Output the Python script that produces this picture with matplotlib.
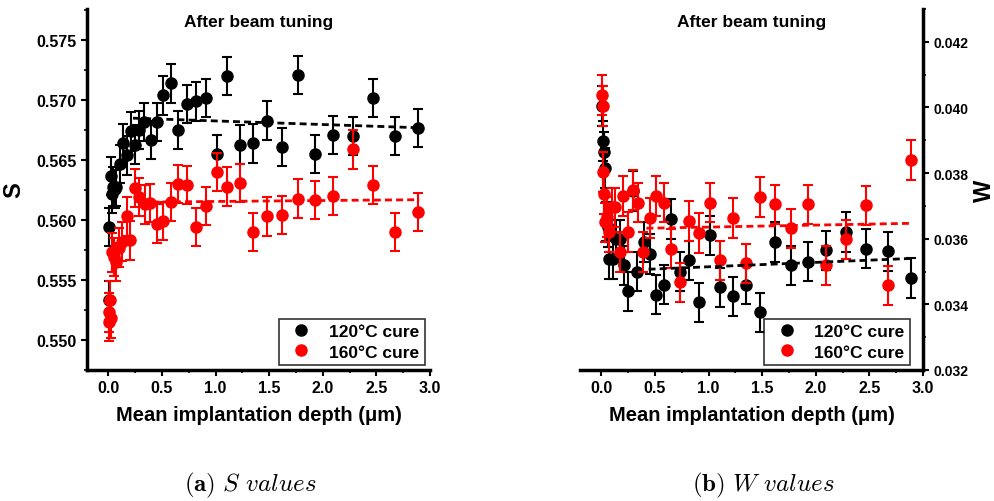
import matplotlib
matplotlib.use('Agg')
import matplotlib.pyplot as plt
from matplotlib.lines import Line2D
from matplotlib.ticker import MultipleLocator

plt.rcParams['font.family'] = ['Liberation Sans', 'DejaVu Sans']
plt.rcParams['font.weight'] = 'bold'
plt.rcParams['mathtext.fontset'] = 'cm'

# depths (um)
d120 = [0.005, 0.01, 0.02, 0.03, 0.04, 0.06, 0.07, 0.11, 0.14, 0.17, 0.21, 0.25,
        0.29, 0.33, 0.40, 0.45, 0.51, 0.58, 0.65, 0.73, 0.82, 0.91, 1.01, 1.11,
        1.23, 1.35, 1.48, 1.62, 1.77, 1.93, 2.10, 2.28, 2.47, 2.67, 2.89]
d160 = [0.005, 0.01, 0.015, 0.02, 0.03, 0.05, 0.07, 0.10, 0.13, 0.17, 0.20, 0.25,
        0.29, 0.34, 0.39, 0.45, 0.51, 0.58, 0.65, 0.73, 0.82, 0.91, 1.01, 1.11,
        1.23, 1.35, 1.48, 1.62, 1.77, 1.93, 2.10, 2.28, 2.47, 2.67, 2.89]

# S parameter
s120 = [0.5533, 0.5594, 0.5637, 0.5622, 0.5628, 0.5626, 0.5628, 0.5647, 0.5664,
        0.5654, 0.5674, 0.5663, 0.5675, 0.5682, 0.5667, 0.5682, 0.5704, 0.5714,
        0.5675, 0.5697, 0.5699, 0.5702, 0.5655, 0.5720, 0.5663, 0.5664, 0.5683,
        0.5661, 0.5721, 0.5655, 0.5671, 0.5670, 0.5702, 0.5670, 0.5677]
s160 = [0.5523, 0.5515, 0.5533, 0.5518, 0.5573, 0.5569, 0.5565, 0.5577, 0.5582,
        0.5603, 0.5583, 0.5627, 0.5619, 0.5613, 0.5614, 0.5597, 0.5599, 0.5615,
        0.5630, 0.5629, 0.5594, 0.5612, 0.5640, 0.5628, 0.5631, 0.5590, 0.5603,
        0.5604, 0.5618, 0.5617, 0.5620, 0.5659, 0.5629, 0.5590, 0.5607]
s_err = 0.0016

# W parameter
w120 = [0.04005, 0.03898, 0.03864, 0.03815, 0.03653, 0.03635, 0.03537, 0.03537,
        0.03598, 0.03598, 0.03519, 0.03440, 0.03745, 0.03500, 0.03590, 0.03553,
        0.03430, 0.03460, 0.03660, 0.03500, 0.03534, 0.03406, 0.03610, 0.03452,
        0.03424, 0.03460, 0.03376, 0.03590, 0.03519, 0.03530, 0.03565, 0.03620,
        0.03570, 0.03562, 0.03480]
w160 = [0.04038, 0.04005, 0.03803, 0.03736, 0.03650, 0.03666, 0.03620, 0.03696,
        0.03696, 0.03559, 0.03730, 0.03620, 0.03748, 0.03710, 0.03560, 0.03663,
        0.03730, 0.03710, 0.03570, 0.03467, 0.03654, 0.03617, 0.03710, 0.03534,
        0.03663, 0.03525, 0.03727, 0.03705, 0.03632, 0.03705, 0.03519, 0.03598,
        0.03702, 0.03458, 0.03840]
w_err = 0.0006

# linear fits (start, end)
fit_x120_s = [0.23, 2.9]
fit_s120 = [0.5685, 0.5677]
fit_x160_s = [0.30, 2.9]
fit_s160 = [0.5615, 0.5617]
fit_x120_w = [0.44, 2.9]
fit_w120 = [0.03507, 0.03540]
fit_x160_w = [0.42, 2.9]
fit_w160 = [0.03632, 0.03647]

labels = ['120\u00b0C cure', '160\u00b0C cure']

fig = plt.figure(figsize=(9.94, 5.02), dpi=100)
ax1 = fig.add_axes([0.0875, 0.261, 0.345, 0.719])
ax2 = fig.add_axes([0.5835, 0.261, 0.345, 0.719])


def panel(ax, y1, y2, err, f1x, f1y, f2x, f2y):
    ax.errorbar(d120, y1, yerr=err, fmt='o', color='black', ms=8,
                elinewidth=1.5, capsize=3.5, capthick=1.5, zorder=2)
    ax.errorbar(d160, y2, yerr=err, fmt='o', color='red', ms=8,
                elinewidth=1.5, capsize=3.5, capthick=1.5, zorder=3)
    ax.plot(f1x, f1y, '--', color='black', lw=2, dashes=(2.5, 1.5), zorder=4)
    ax.plot(f2x, f2y, '--', color='red', lw=2, dashes=(2.5, 1.5), zorder=4)
    ax.set_xlim(-0.2, 3.0)
    ax.xaxis.set_major_locator(MultipleLocator(0.5))
    ax.xaxis.set_minor_locator(MultipleLocator(0.25))
    ax.set_xlabel('Mean implantation depth (\u03bcm)', fontsize=14.5,
                  fontweight='bold', labelpad=7)
    ax.text(0.5, 0.965, 'After beam tuning', transform=ax.transAxes,
            ha='center', va='center', fontsize=12.5, fontweight='bold')
    ax.tick_params(which='major', direction='out', length=4, width=1.5,
                   labelsize=11.5)
    ax.tick_params(which='minor', direction='out', length=2.5, width=1.2)
    for lab in ax.get_xticklabels() + ax.get_yticklabels():
        lab.set_fontweight('bold')
    handles = [Line2D([], [], marker='o', ls='', color='black', ms=8),
               Line2D([], [], marker='o', ls='', color='red', ms=8)]
    leg = ax.legend(handles, labels, loc='lower right', fontsize=12.5,
                    frameon=True, fancybox=False, handletextpad=0.6,
                    borderaxespad=0.3, borderpad=0.3, labelspacing=0.3)
    leg.get_frame().set_edgecolor('black')
    leg.get_frame().set_linewidth(1.2)
    for t in leg.get_texts():
        t.set_fontweight('bold')


panel(ax1, s120, s160, s_err, fit_x120_s, fit_s120, fit_x160_s, fit_s160)
ax1.set_ylim(0.5475, 0.5776)
ax1.yaxis.set_major_locator(MultipleLocator(0.005))
ax1.yaxis.set_minor_locator(MultipleLocator(0.0025))
ax1.yaxis.set_major_formatter(plt.FormatStrFormatter('%.3f'))
ax1.spines['top'].set_visible(False)
ax1.spines['right'].set_visible(False)
ax1.spines['left'].set_linewidth(2.5)
ax1.spines['bottom'].set_linewidth(2.5)
ax1.set_ylabel('S', fontsize=17, fontweight='bold', labelpad=8)

panel(ax2, w120, w160, w_err, fit_x120_w, fit_w120, fit_x160_w, fit_w160)
ax2.set_ylim(0.032, 0.043)
ax2.yaxis.set_major_locator(MultipleLocator(0.002))
ax2.yaxis.set_minor_locator(MultipleLocator(0.001))
ax2.yaxis.set_major_formatter(plt.FormatStrFormatter('%.3f'))
ax2.yaxis.tick_right()
ax2.yaxis.set_label_position('right')
ax2.tick_params(axis='y', which='major', labelsize=10)
for lab in ax2.get_yticklabels():
    lab.set_fontweight('bold')
ax2.spines['top'].set_visible(False)
ax2.spines['left'].set_visible(False)
ax2.spines['right'].set_linewidth(2.5)
ax2.spines['bottom'].set_linewidth(2.5)
ax2.set_ylabel('W', fontsize=17, fontweight='bold', labelpad=3)
ax2.get_legend().set_bbox_to_anchor((0.977, 0.0), transform=ax2.transAxes)

fig.text(0.252, 0.033, r'$\mathbf{(a)}\ \mathit{S\ values}$', ha='center',
         va='center', fontsize=18)
fig.text(0.768, 0.033, r'$\mathbf{(b)}\ \mathit{W\ values}$', ha='center',
         va='center', fontsize=18)

fig.savefig('out.png', dpi=100)
